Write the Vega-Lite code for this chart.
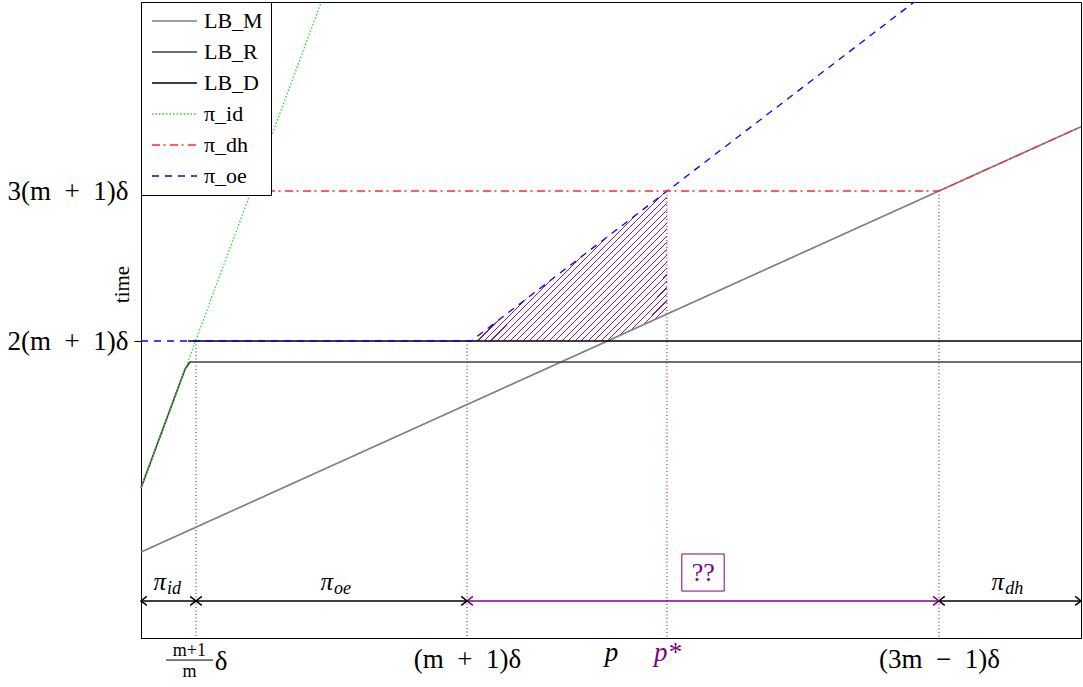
{
  "$schema": "https://vega.github.io/schema/vega-lite/v6.json",
  "width": 940,
  "height": 636,
  "autosize": "none",
  "padding": {"left": 141, "top": 2, "right": 2, "bottom": 49},
  "background": "white",
  "config": {
    "view": {"stroke": "black", "strokeWidth": 1},
    "font": "Liberation Serif",
    "axis": {"domainColor": "black", "labelFont": "Liberation Serif", "titleFont": "Liberation Serif", "grid": false, "labelColor": "black", "titleColor": "black"},
    "legend": {
      "orient": "top-left", "offset": 0, "padding": 8, "strokeColor": "black", "fillColor": "white",
      "symbolType": "M-0.8,0L3.7,0", "symbolSize": 400, "labelOffset": 33, "labelFontSize": 22,
      "labelFont": "Liberation Serif", "labelColor": "black", "rowPadding": 9, "symbolStrokeWidth": 1.6, "labelLimit": 0, "cornerRadius": 0
    }
  },
  "datasets": {
    "plabels": [
      {"x": 0.537, "sub": "id"},
      {"x": 4.12, "sub": "oe"},
      {"x": 18.53, "sub": "dh"}
    ],
    "arrows": [
      {"from": 0, "to": 1.18, "name": "pi_id"},
      {"from": 1.18, "to": 7.0, "name": "pi_oe"},
      {"from": 7.0, "to": 17.13, "name": "??"},
      {"from": 17.13, "to": 20.18, "name": "pi_dh"}
    ]
  },
  "layer": [
    {
      "data": {"values": [
        {"x": 7.09, "top": 14, "bottom": 14},
        {"x": 10.01, "top": 18.86, "bottom": 14},
        {"x": 11.29, "top": 21, "bottom": 15.26}
      ]},
      "mark": {"type": "area", "strokeWidth": 0, "color": {
        "gradient": "linear", "x1": 0, "y1": 0, "x2": 1.1, "y2": 0.842,
        "stops": [
          {"offset": 0, "color": "white"},
          {"offset": 0.3983, "color": "white"}, {"offset": 0.3983, "color": "#8b1a8b"}, {"offset": 0.4017, "color": "#8b1a8b"}, {"offset": 0.4017, "color": "white"},
          {"offset": 0.4173, "color": "white"}, {"offset": 0.4173, "color": "#8b1a8b"}, {"offset": 0.4207, "color": "#8b1a8b"}, {"offset": 0.4207, "color": "white"},
          {"offset": 0.4363, "color": "white"}, {"offset": 0.4363, "color": "#8b1a8b"}, {"offset": 0.4397, "color": "#8b1a8b"}, {"offset": 0.4397, "color": "white"},
          {"offset": 0.4553, "color": "white"}, {"offset": 0.4553, "color": "#8b1a8b"}, {"offset": 0.4587, "color": "#8b1a8b"}, {"offset": 0.4587, "color": "white"},
          {"offset": 0.4743, "color": "white"}, {"offset": 0.4743, "color": "#8b1a8b"}, {"offset": 0.4777, "color": "#8b1a8b"}, {"offset": 0.4777, "color": "white"},
          {"offset": 0.4933, "color": "white"}, {"offset": 0.4933, "color": "#8b1a8b"}, {"offset": 0.4967, "color": "#8b1a8b"}, {"offset": 0.4967, "color": "white"},
          {"offset": 0.5123, "color": "white"}, {"offset": 0.5123, "color": "#8b1a8b"}, {"offset": 0.5157, "color": "#8b1a8b"}, {"offset": 0.5157, "color": "white"},
          {"offset": 0.5313, "color": "white"}, {"offset": 0.5313, "color": "#8b1a8b"}, {"offset": 0.5347, "color": "#8b1a8b"}, {"offset": 0.5347, "color": "white"},
          {"offset": 0.5503, "color": "white"}, {"offset": 0.5503, "color": "#8b1a8b"}, {"offset": 0.5537, "color": "#8b1a8b"}, {"offset": 0.5537, "color": "white"},
          {"offset": 0.5693, "color": "white"}, {"offset": 0.5693, "color": "#8b1a8b"}, {"offset": 0.5727, "color": "#8b1a8b"}, {"offset": 0.5727, "color": "white"},
          {"offset": 0.5883, "color": "white"}, {"offset": 0.5883, "color": "#8b1a8b"}, {"offset": 0.5917, "color": "#8b1a8b"}, {"offset": 0.5917, "color": "white"},
          {"offset": 0.6073, "color": "white"}, {"offset": 0.6073, "color": "#8b1a8b"}, {"offset": 0.6107, "color": "#8b1a8b"}, {"offset": 0.6107, "color": "white"},
          {"offset": 0.6263, "color": "white"}, {"offset": 0.6263, "color": "#8b1a8b"}, {"offset": 0.6297, "color": "#8b1a8b"}, {"offset": 0.6297, "color": "white"},
          {"offset": 0.6453, "color": "white"}, {"offset": 0.6453, "color": "#8b1a8b"}, {"offset": 0.6487, "color": "#8b1a8b"}, {"offset": 0.6487, "color": "white"},
          {"offset": 0.6643, "color": "white"}, {"offset": 0.6643, "color": "#8b1a8b"}, {"offset": 0.6677, "color": "#8b1a8b"}, {"offset": 0.6677, "color": "white"},
          {"offset": 0.6833, "color": "white"}, {"offset": 0.6833, "color": "#8b1a8b"}, {"offset": 0.6867, "color": "#8b1a8b"}, {"offset": 0.6867, "color": "white"},
          {"offset": 0.7023, "color": "white"}, {"offset": 0.7023, "color": "#8b1a8b"}, {"offset": 0.7057, "color": "#8b1a8b"}, {"offset": 0.7057, "color": "white"},
          {"offset": 0.7213, "color": "white"}, {"offset": 0.7213, "color": "#8b1a8b"}, {"offset": 0.7247, "color": "#8b1a8b"}, {"offset": 0.7247, "color": "white"},
          {"offset": 0.7403, "color": "white"}, {"offset": 0.7403, "color": "#8b1a8b"}, {"offset": 0.7437, "color": "#8b1a8b"}, {"offset": 0.7437, "color": "white"},
          {"offset": 0.7593, "color": "white"}, {"offset": 0.7593, "color": "#8b1a8b"}, {"offset": 0.7627, "color": "#8b1a8b"}, {"offset": 0.7627, "color": "white"},
          {"offset": 0.7783, "color": "white"}, {"offset": 0.7783, "color": "#8b1a8b"}, {"offset": 0.7817, "color": "#8b1a8b"}, {"offset": 0.7817, "color": "white"},
          {"offset": 0.7973, "color": "white"}, {"offset": 0.7973, "color": "#8b1a8b"}, {"offset": 0.8007, "color": "#8b1a8b"}, {"offset": 0.8007, "color": "white"},
          {"offset": 0.8163, "color": "white"}, {"offset": 0.8163, "color": "#8b1a8b"}, {"offset": 0.8197, "color": "#8b1a8b"}, {"offset": 0.8197, "color": "white"},
          {"offset": 0.8353, "color": "white"}, {"offset": 0.8353, "color": "#8b1a8b"}, {"offset": 0.8387, "color": "#8b1a8b"}, {"offset": 0.8387, "color": "white"},
          {"offset": 0.8543, "color": "white"}, {"offset": 0.8543, "color": "#8b1a8b"}, {"offset": 0.8577, "color": "#8b1a8b"}, {"offset": 0.8577, "color": "white"},
          {"offset": 0.8733, "color": "white"}, {"offset": 0.8733, "color": "#8b1a8b"}, {"offset": 0.8767, "color": "#8b1a8b"}, {"offset": 0.8767, "color": "white"},
          {"offset": 0.8923, "color": "white"}, {"offset": 0.8923, "color": "#8b1a8b"}, {"offset": 0.8957, "color": "#8b1a8b"}, {"offset": 0.8957, "color": "white"},
          {"offset": 0.9113, "color": "white"}, {"offset": 0.9113, "color": "#8b1a8b"}, {"offset": 0.9147, "color": "#8b1a8b"}, {"offset": 0.9147, "color": "white"},
          {"offset": 0.9303, "color": "white"}, {"offset": 0.9303, "color": "#8b1a8b"}, {"offset": 0.9337, "color": "#8b1a8b"}, {"offset": 0.9337, "color": "white"},
          {"offset": 0.9493, "color": "white"}, {"offset": 0.9493, "color": "#8b1a8b"}, {"offset": 0.9527, "color": "#8b1a8b"}, {"offset": 0.9527, "color": "white"},
          {"offset": 1, "color": "white"}
        ]}},
      "encoding": {
        "x": {"field": "x", "type": "quantitative", "scale": {"domain": [0, 20.18], "nice": false, "zero": false},
          "axis": {"title": null, "values": [7.0, 10.09, 11.29, 17.13],
            "labelExpr": "datum.value < 8 ? '(m \u00a0+\u00a0 1)δ' : datum.value < 11 ? 'p' : datum.value < 12 ? 'p*' : '(3m \u00a0−\u00a0 1)δ'",
            "ticks": false, "labelFontSize": 27, "labelFlush": false, "labelOverlap": false, "labelBound": false,
            "labelPadding": {"condition": {"test": "datum.value > 10 && datum.value < 12", "value": 1}, "value": 8},
            "labelColor": {"condition": {"test": "datum.value > 11 && datum.value < 12", "value": "#800080"}, "value": "black"},
            "labelFontStyle": {"condition": {"test": "datum.value > 10 && datum.value < 12", "value": "italic"}, "value": "normal"}}},
        "y": {"field": "top", "type": "quantitative", "scale": {"domain": [0.14, 29.82], "nice": false, "zero": false},
          "axis": {"title": "time", "values": [14, 21],
            "labelExpr": "datum.value < 17 ? '2(m \u00a0+\u00a0 1)δ' : '3(m \u00a0+\u00a0 1)δ'",
            "tickSize": 7, "tickColor": "black",
            "tickOpacity": {"condition": {"test": "datum.value < 17", "value": 1}, "value": 0},
            "labelPadding": 6, "labelFontSize": 27, "labelOverlap": false, "labelFlush": false,
            "titleFontSize": 21, "titleFontWeight": "normal", "titleX": -19, "titleY": 282, "titleAngle": 270,
            "titleBaseline": "middle", "titleAlign": "center"}},
        "y2": {"field": "bottom"}
      }
    },
    {
      "data": {"values": [{"x": 1.18, "top": 14}, {"x": 7.0, "top": 14}, {"x": 17.13, "top": 21}]},
      "mark": {"type": "rule", "color": "#333333", "strokeWidth": 1, "strokeDash": [1, 2.5]},
      "encoding": {
        "x": {"field": "x", "type": "quantitative", "scale": {"domain": [0, 20.18], "nice": false, "zero": false}},
        "y": {"field": "top", "type": "quantitative", "scale": {"domain": [0.14, 29.82], "nice": false, "zero": false}},
        "y2": {"datum": 0.14}
      }
    },
    {
      "data": {"values": [{"x": 11.29, "top": 21}]},
      "mark": {"type": "rule", "color": "#800080", "strokeWidth": 1, "strokeDash": [1, 2.5]},
      "encoding": {
        "x": {"field": "x", "type": "quantitative", "scale": {"domain": [0, 20.18], "nice": false, "zero": false}},
        "y": {"field": "top", "type": "quantitative", "scale": {"domain": [0.14, 29.82], "nice": false, "zero": false}},
        "y2": {"datum": 0.14}
      }
    },
    {
      "data": {"values": [
        {"series": "LB_M", "x": 0, "y": 4.15},
        {"series": "LB_M", "x": 20.18, "y": 24.0},
        {"series": "LB_R", "x": 0, "y": 7.14},
        {"series": "LB_R", "x": 0.945, "y": 12.68},
        {"series": "LB_R", "x": 1.05, "y": 13.02},
        {"series": "LB_R", "x": 20.18, "y": 13.02},
        {"series": "LB_D", "x": 1.01, "y": 14},
        {"series": "LB_D", "x": 20.18, "y": 14}
      ]},
      "mark": {"type": "line", "strokeWidth": 1.7},
      "encoding": {
        "x": {"field": "x", "type": "quantitative", "scale": {"domain": [0, 20.18], "nice": false, "zero": false}},
        "y": {"field": "y", "type": "quantitative", "scale": {"domain": [0.14, 29.82], "nice": false, "zero": false}},
        "color": {"field": "series", "type": "nominal",
          "scale": {"domain": ["LB_M", "LB_R", "LB_D", "π_id", "π_dh", "π_oe"], "range": ["#808080", "#404040", "#000000", "#22dd22", "#ff2a2a", "#0000ff"]},
          "legend": {"title": null, "labelFontSize": 22, "labelFont": "Liberation Serif", "labelOffset": 33}},
        "strokeDash": {"field": "series", "type": "nominal",
          "scale": {"domain": ["LB_M", "LB_R", "LB_D", "π_id", "π_dh", "π_oe"], "range": [[1, 0], [1, 0], [1, 0], [1.5, 2], [8, 3.5, 2, 4.5], [7, 6]]},
          "legend": {"title": null, "labelFontSize": 22, "labelFont": "Liberation Serif", "labelOffset": 33}}
      }
    },
    {
      "data": {"values": [
        {"series": "π_id", "x": 0, "y": 7.14},
        {"series": "π_id", "x": 3.87, "y": 29.82},
        {"series": "π_oe", "x": 0, "y": 14},
        {"series": "π_oe", "x": 7.09, "y": 14},
        {"series": "π_oe", "x": 16.6, "y": 29.82},
        {"series": "π_dh", "x": 0, "y": 21},
        {"series": "π_dh", "x": 17.13, "y": 21},
        {"series": "π_dh", "x": 20.18, "y": 24.0}
      ]},
      "mark": {"type": "line", "strokeWidth": 1.3},
      "encoding": {
        "x": {"field": "x", "type": "quantitative", "scale": {"domain": [0, 20.18], "nice": false, "zero": false}},
        "y": {"field": "y", "type": "quantitative", "scale": {"domain": [0.14, 29.82], "nice": false, "zero": false}},
        "color": {"field": "series", "type": "nominal",
          "scale": {"domain": ["LB_M", "LB_R", "LB_D", "π_id", "π_dh", "π_oe"], "range": ["#808080", "#404040", "#000000", "#22dd22", "#ff2a2a", "#0000ff"]},
          "legend": {"title": null, "labelFontSize": 22, "labelFont": "Liberation Serif", "labelOffset": 33}},
        "strokeDash": {"field": "series", "type": "nominal",
          "scale": {"domain": ["LB_M", "LB_R", "LB_D", "π_id", "π_dh", "π_oe"], "range": [[1, 0], [1, 0], [1, 0], [1.5, 2], [8, 3.5, 2, 4.5], [7, 6]]},
          "legend": {"title": null, "labelFontSize": 22, "labelFont": "Liberation Serif", "labelOffset": 33}}
      }
    },
    {
      "data": {"name": "arrows"},
      "mark": {"type": "rule", "strokeWidth": 1.5},
      "encoding": {
        "x": {"field": "from", "type": "quantitative", "scale": {"domain": [0, 20.18], "nice": false, "zero": false}},
        "x2": {"field": "to"},
        "y": {"datum": 1.87, "type": "quantitative", "scale": {"domain": [0.14, 29.82], "nice": false, "zero": false}},
        "color": {"condition": {"test": "datum.name == '??'", "value": "#800080"}, "value": "black"}
      }
    },
    {
      "data": {"name": "arrows"},
      "mark": {"type": "point", "shape": "M1.3,-1L0,0L1.3,1", "size": 80, "filled": false, "strokeWidth": 1.5, "opacity": 1},
      "encoding": {
        "x": {"field": "from", "type": "quantitative", "scale": {"domain": [0, 20.18], "nice": false, "zero": false}},
        "y": {"datum": 1.87, "type": "quantitative", "scale": {"domain": [0.14, 29.82], "nice": false, "zero": false}},
        "color": {"condition": {"test": "datum.name == '??'", "value": "#800080"}, "value": "black"}
      }
    },
    {
      "data": {"name": "arrows"},
      "mark": {"type": "point", "shape": "M-1.3,-1L0,0L-1.3,1", "size": 80, "filled": false, "strokeWidth": 1.5, "opacity": 1},
      "encoding": {
        "x": {"field": "to", "type": "quantitative", "scale": {"domain": [0, 20.18], "nice": false, "zero": false}},
        "y": {"datum": 1.87, "type": "quantitative", "scale": {"domain": [0.14, 29.82], "nice": false, "zero": false}},
        "color": {"condition": {"test": "datum.name == '??'", "value": "#800080"}, "value": "black"}
      }
    },
    {
      "data": {"name": "plabels"},
      "mark": {"type": "text", "align": "right", "baseline": "alphabetic", "fontSize": 25, "fontStyle": "italic", "font": "Liberation Serif", "color": "black"},
      "encoding": {
        "x": {"field": "x", "type": "quantitative", "scale": {"domain": [0, 20.18], "nice": false, "zero": false}},
        "y": {"datum": 2.38, "type": "quantitative", "scale": {"domain": [0.14, 29.82], "nice": false, "zero": false}},
        "text": {"value": "π"}
      }
    },
    {
      "data": {"name": "plabels"},
      "mark": {"type": "text", "align": "left", "baseline": "alphabetic", "fontSize": 18, "fontStyle": "italic", "font": "Liberation Serif", "color": "black", "dx": 1, "dy": 4},
      "encoding": {
        "x": {"field": "x", "type": "quantitative", "scale": {"domain": [0, 20.18], "nice": false, "zero": false}},
        "y": {"datum": 2.38, "type": "quantitative", "scale": {"domain": [0.14, 29.82], "nice": false, "zero": false}},
        "text": {"field": "sub"}
      }
    },
    {
      "data": {"values": [{}]},
      "mark": {"type": "rect", "fill": "white", "stroke": "#800080", "strokeWidth": 1},
      "encoding": {
        "x": {"datum": 11.61, "type": "quantitative", "scale": {"domain": [0, 20.18], "nice": false, "zero": false}},
        "x2": {"datum": 12.52},
        "y": {"datum": 4.06, "type": "quantitative", "scale": {"domain": [0.14, 29.82], "nice": false, "zero": false}},
        "y2": {"datum": 2.33}
      }
    },
    {
      "data": {"values": [{"x": 12.07, "y": 3.17, "t": "??"}]},
      "mark": {"type": "text", "align": "center", "baseline": "middle", "fontSize": 26, "font": "Liberation Serif", "color": "#800080"},
      "encoding": {
        "x": {"field": "x", "type": "quantitative", "scale": {"domain": [0, 20.18], "nice": false, "zero": false}},
        "y": {"field": "y", "type": "quantitative", "scale": {"domain": [0.14, 29.82], "nice": false, "zero": false}},
        "text": {"field": "t"}
      }
    },
    {
      "data": {"values": [{"x": 1.04, "y": -0.7, "t": "m+1"}, {"x": 1.04, "y": -1.68, "t": "m"}]},
      "mark": {"type": "text", "align": "center", "baseline": "alphabetic", "fontSize": 18, "font": "Liberation Serif", "color": "black"},
      "encoding": {
        "x": {"field": "x", "type": "quantitative", "scale": {"domain": [0, 20.18], "nice": false, "zero": false}},
        "y": {"field": "y", "type": "quantitative", "scale": {"domain": [0.14, 29.82], "nice": false, "zero": false}},
        "text": {"field": "t"}
      }
    },
    {
      "data": {"values": [{"x": 1.72, "y": -0.98, "t": "δ"}]},
      "mark": {"type": "text", "align": "center", "baseline": "middle", "fontSize": 27, "font": "Liberation Serif", "color": "black"},
      "encoding": {
        "x": {"field": "x", "type": "quantitative", "scale": {"domain": [0, 20.18], "nice": false, "zero": false}},
        "y": {"field": "y", "type": "quantitative", "scale": {"domain": [0.14, 29.82], "nice": false, "zero": false}},
        "text": {"field": "t"}
      }
    },
    {
      "data": {"values": [{"x": 0.537, "x2": 1.546, "y": -0.89}]},
      "mark": {"type": "rule", "color": "black", "strokeWidth": 1},
      "encoding": {
        "x": {"field": "x", "type": "quantitative", "scale": {"domain": [0, 20.18], "nice": false, "zero": false}},
        "x2": {"field": "x2"},
        "y": {"field": "y", "type": "quantitative", "scale": {"domain": [0.14, 29.82], "nice": false, "zero": false}}
      }
    }
  ]
}
